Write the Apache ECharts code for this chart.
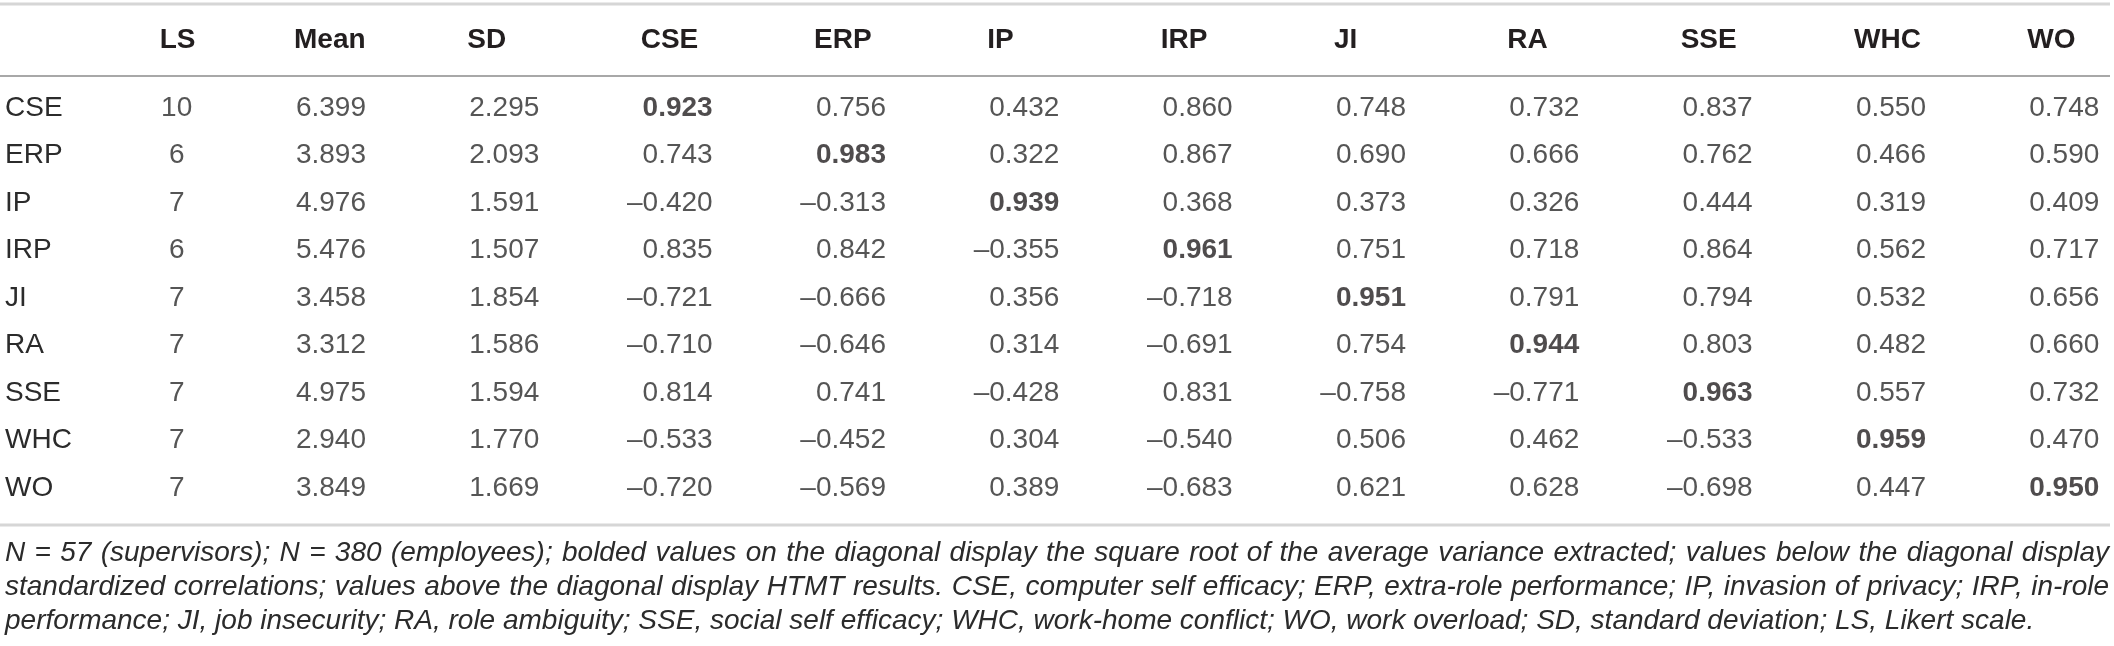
<!DOCTYPE html>
<html>
<head>
<meta charset="utf-8">
<script src="https://cdn.jsdelivr.net/npm/echarts@6/dist/echarts.min.js"></script>
<style>
html,body{margin:0;padding:0;background:#fff;}
#chart{width:2114px;height:646px;}
</style>
</head>
<body>
<div id="chart"></div>
<script>
// ---- data ----
const columns = ['LS','Mean','SD','CSE','ERP','IP','IRP','JI','RA','SSE','WHC','WO'];
const rowLabels = ['CSE','ERP','IP','IRP','JI','RA','SSE','WHC','WO'];
const lsValues = [10, 6, 7, 6, 7, 7, 7, 7, 7];
const meanValues = [6.399, 3.893, 4.976, 5.476, 3.458, 3.312, 4.975, 2.940, 3.849];
const sdValues = [2.295, 2.093, 1.591, 1.507, 1.854, 1.586, 1.594, 1.770, 1.669];
const cseRow = [0.923, 0.756, 0.432, 0.860, 0.748, 0.732, 0.837, 0.550, 0.748];
const erpRow = [0.743, 0.983, 0.322, 0.867, 0.690, 0.666, 0.762, 0.466, 0.590];
const ipRow  = [-0.420, -0.313, 0.939, 0.368, 0.373, 0.326, 0.444, 0.319, 0.409];
const irpRow = [0.835, 0.842, -0.355, 0.961, 0.751, 0.718, 0.864, 0.562, 0.717];
const jiRow  = [-0.721, -0.666, 0.356, -0.718, 0.951, 0.791, 0.794, 0.532, 0.656];
const raRow  = [-0.710, -0.646, 0.314, -0.691, 0.754, 0.944, 0.803, 0.482, 0.660];
const sseRow = [0.814, 0.741, -0.428, 0.831, -0.758, -0.771, 0.963, 0.557, 0.732];
const whcRow = [-0.533, -0.452, 0.304, -0.540, 0.506, 0.462, -0.533, 0.959, 0.470];
const woRow  = [-0.720, -0.569, 0.389, -0.683, 0.621, 0.628, -0.698, 0.447, 0.950];
const footnoteLines = [
  'N = 57 (supervisors); N = 380 (employees); bolded values on the diagonal display the square root of the average variance extracted; values below the diagonal display',
  'standardized correlations; values above the diagonal display HTMT results. CSE, computer self efficacy; ERP, extra-role performance; IP, invasion of privacy; IRP, in-role',
  'performance; JI, job insecurity; RA, role ambiguity; SSE, social self efficacy; WHC, work-home conflict; WO, work overload; SD, standard deviation; LS, Likert scale.'
];

// ---- build ----
const matrix = [cseRow, erpRow, ipRow, irpRow, jiRow, raRow, sseRow, whcRow, woRow];
const FONT = "'Liberation Sans', Arial, sans-serif";
const TXT = '#231f20';
const TXT_LIGHT = '#2b2b2b';
function fmt(v){ return (v < 0 ? '\u2013' : '') + Math.abs(v).toFixed(3); }

const cells = [];
rowLabels.forEach((r, j) => {
  cells.push({ value: [0, j, String(lsValues[j])], label: { align: 'center', offset: [56, 0] } });
  cells.push({ value: [1, j, meanValues[j].toFixed(3)] });
  cells.push({ value: [2, j, sdValues[j].toFixed(3)] });
  matrix[j].forEach((v, k) => {
    const item = { value: [3 + k, j, fmt(v)] };
    if (k === j) item.label = { fontWeight: 'bold', color: TXT };
    cells.push(item);
  });
});

// ---- footnote layout (justified like the source) ----
const LEFT = 5, RIGHT = 2109, TARGET = RIGHT - LEFT;
const cv = document.createElement('canvas').getContext('2d');
cv.font = "italic 28px " + FONT;
const maxW = Math.max(...footnoteLines.map(l => cv.measureText(l).width));
const footSize = Math.min(28, 28 * (TARGET - 4) / maxW);
const footFont = 'italic ' + footSize.toFixed(2) + 'px ' + FONT;
cv.font = footFont;
const spaceW = cv.measureText(' ').width;
const footGraphics = [];
const lineY = [553, 587, 621];
footnoteLines.forEach((line, li) => {
  const words = line.split(' ');
  const widths = words.map(w => cv.measureText(w).width);
  const sum = widths.reduce((a, b) => a + b, 0);
  const justify = li < footnoteLines.length - 1;
  const gap = justify ? (TARGET - sum) / (words.length - 1) : spaceW;
  let x = LEFT;
  words.forEach((w, wi) => {
    footGraphics.push({ type: 'text', x: x, y: lineY[li], silent: true, style: {
      text: w, font: footFont, fill: TXT_LIGHT, verticalAlign: 'middle', align: 'left'
    }});
    x += widths[wi] + gap;
  });
});

const chart = echarts.init(document.getElementById('chart'), null, { renderer: 'canvas' });
chart.setOption({
  animation: false,
  backgroundColor: '#fff',
  grid: { left: 34, right: -8, top: 84.25, bottom: 134.25, containLabel: false },
  xAxis: {
    type: 'category', data: columns, position: 'top',
    axisLine: { show: false }, axisTick: { show: false }, splitLine: { show: false },
    axisLabel: {
      interval: 0, margin: 44.25, align: 'left', verticalAlign: 'middle',
      fontFamily: FONT, fontSize: 28, fontWeight: 'bold', color: TXT,
      formatter: v => v === 'LS' ? '{ls|LS}' : '{h|' + v + '}',
      rich: {
        ls: { fontFamily: FONT, fontSize: 28, fontWeight: 'bold', color: TXT, padding: [0, 0, 0, 39] },
        h: { fontFamily: FONT, fontSize: 28, fontWeight: 'bold', color: TXT }
      }
    }
  },
  yAxis: {
    type: 'category', data: rowLabels, inverse: true,
    axisLine: { show: false }, axisTick: { show: false }, splitLine: { show: false },
    axisLabel: { interval: 0, margin: 29, align: 'left', fontFamily: FONT, fontSize: 28, color: TXT_LIGHT }
  },
  series: [{
    type: 'scatter',
    data: cells,
    symbolSize: 1,
    itemStyle: { color: 'rgba(0,0,0,0)' },
    silent: true,
    label: {
      show: true, position: 'inside', align: 'right', verticalAlign: 'middle', offset: [72, 0],
      fontFamily: FONT, fontSize: 28, color: TXT_LIGHT,
      formatter: p => p.value[2]
    }
  }],
  graphic: [
    { type: 'line', silent: true, shape: { x1: 0, y1: 4, x2: 2110, y2: 4 }, style: { stroke: '#d6d6d6', lineWidth: 3 } },
    { type: 'line', silent: true, shape: { x1: 0, y1: 76, x2: 2110, y2: 76 }, style: { stroke: '#a8a8a8', lineWidth: 2 } },
    { type: 'line', silent: true, shape: { x1: 0, y1: 525, x2: 2110, y2: 525 }, style: { stroke: '#d6d6d6', lineWidth: 3 } }
  ].concat(footGraphics)
});
</script>
</body>
</html>
